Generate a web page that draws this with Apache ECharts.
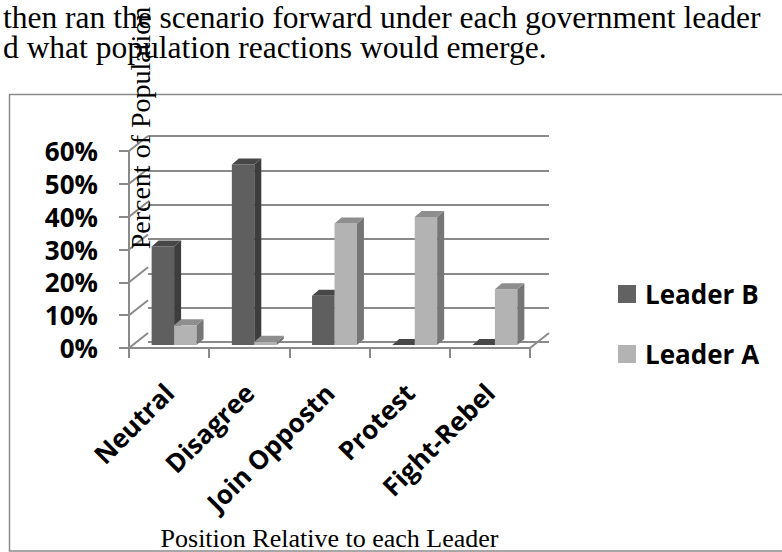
<!DOCTYPE html>
<html>
<head>
<meta charset="utf-8">
<script src="https://cdn.jsdelivr.net/npm/echarts@6/dist/echarts.min.js"></script>
<style>
html,body{margin:0;padding:0;background:#fff;}
#chart{width:782px;height:552px;}
</style>
</head>
<body>
<div id="chart"></div>
<script>
// ---- data ----
const categories = ['Neutral', 'Disagree', 'Join Oppostn', 'Protest', 'Fight-Rebel'];
const leaderB = [30, 55, 15, 0, 0];
const leaderA = [6, 1, 37, 39, 17];
const yTicks = [0, 10, 20, 30, 40, 50, 60];
const seriesNames = ['Leader B', 'Leader A'];
const paragraphLines = [
  'then ran the scenario forward under each government leader',
  'd what population reactions would emerge.'
];
const yTitle = 'Percent of Population';
const xTitle = 'Position Relative to each Leader';

// ---- style constants ----
const DX = 19, DY = -15;          // wall depth offset
const SX = 5, SY = -3;            // bar placement inside depth
const BX = 7, BY = -6;            // bar depth
const GRID_COLOR = '#8a8a8a';
const palette = {
  'Leader B': {front: '#5f5f5f', side: '#3d3d3d', top: '#474747', legend: '#626262'},
  'Leader A': {front: '#b3b3b3', side: '#767676', top: '#8e8e8e', legend: '#b3b3b3'}
};
const LABEL_FONT = '"Open Sans", "Liberation Sans", sans-serif';
const SERIF = '"Liberation Serif", "DejaVu Serif", serif';

const chart = echarts.init(document.getElementById('chart'), null, {renderer: 'svg'});

function barRenderer(name, sideIndex) {
  const c = palette[name];
  return function (params, api) {
    const idx = api.value(0), v = api.value(1);
    const base = api.coord([idx, 0]);
    const top = api.coord([idx, v]);
    const bw = api.size([1, 0])[0];
    const w = bw * 0.28;
    const x0 = (sideIndex === 0 ? base[0] - w : base[0]) + SX;
    const yb = base[1] + SY;
    const yt = top[1] + SY;
    return {
      type: 'group',
      children: [
        {type: 'rect', shape: {x: x0, y: yt, width: w, height: yb - yt}, style: {fill: c.front}},
        {type: 'polygon', shape: {points: [[x0 + w, yb], [x0 + w + BX, yb + BY], [x0 + w + BX, yt + BY], [x0 + w, yt]]}, style: {fill: c.side}},
        {type: 'polygon', shape: {points: [[x0, yt], [x0 + BX, yt + BY], [x0 + w + BX, yt + BY], [x0 + w, yt]]}, style: {fill: c.top}}
      ]
    };
  };
}

const option = {
  animation: false,
  backgroundColor: '#fff',
  grid: [
    {left: 129, top: 151, width: 401, height: 206},
    {left: 129 + DX, top: 151 + DY, width: 401, height: 206}
  ],
  xAxis: [
    {
      type: 'category', gridIndex: 0, data: categories,
      axisLine: {show: true, lineStyle: {color: GRID_COLOR, width: 2}},
      axisTick: {show: true, length: 10, lineStyle: {color: GRID_COLOR, width: 2}},
      axisLabel: {
        interval: 0, rotate: 45, margin: 40, verticalAlign: 'middle',
        color: '#000', fontFamily: LABEL_FONT, fontWeight: 'bold', fontSize: 26
      },
      name: xTitle, nameLocation: 'middle', nameGap: 190,
      nameTextStyle: {fontFamily: SERIF, fontSize: 26, color: '#000', verticalAlign: 'middle'}
    },
    {type: 'category', gridIndex: 1, data: categories, show: false}
  ],
  yAxis: [
    {
      type: 'value', gridIndex: 0, min: 0, max: 60, interval: 10,
      axisLine: {show: true, lineStyle: {color: GRID_COLOR, width: 2}},
      axisTick: {show: true, length: 10, lineStyle: {color: GRID_COLOR, width: 2}},
      splitLine: {show: false},
      axisLabel: {
        margin: 31, formatter: '{value}%', color: '#000',
        fontFamily: LABEL_FONT, fontWeight: 'bold', fontSize: 26
      }
    },
    {
      type: 'value', gridIndex: 1, min: 0, max: 60, interval: 10,
      axisLine: {show: false}, axisTick: {show: false}, axisLabel: {show: false},
      splitLine: {show: true, lineStyle: {color: GRID_COLOR, width: 2}}
    }
  ],
  legend: {
    orient: 'vertical', left: 613, top: 274,
    data: seriesNames, icon: 'rect', itemWidth: 18, itemHeight: 18, itemGap: 30,
    selectedMode: false,
    textStyle: {fontFamily: LABEL_FONT, fontWeight: 'bold', fontSize: 26, color: '#000', lineHeight: 30, padding: [0, 0, 0, 4]}
  },
  series: [
    {
      type: 'custom', name: 'walls', xAxisIndex: 0, yAxisIndex: 0, silent: true, z: 1,
      data: yTicks.map(v => [0, v]),
      renderItem: function (params, api) {
        const p = api.coord([0, api.value(1)]);
        const bw = api.size([1, 0])[0];
        const xl = p[0] - bw / 2;
        return {type: 'line', shape: {x1: xl, y1: p[1], x2: xl + DX, y2: p[1] + DY},
          style: {stroke: GRID_COLOR, lineWidth: 2}};
      }
    },
    {
      type: 'custom', name: 'floor', xAxisIndex: 0, yAxisIndex: 0, silent: true, z: 1,
      data: [[categories.length - 1, 0]],
      renderItem: function (params, api) {
        const p = api.coord([api.value(0), 0]);
        const bw = api.size([1, 0])[0];
        const xr = p[0] + bw / 2;
        return {type: 'line', shape: {x1: xr, y1: p[1], x2: xr + DX, y2: p[1] + DY},
          style: {stroke: GRID_COLOR, lineWidth: 2}};
      }
    },
    {
      type: 'custom', name: 'Leader B', xAxisIndex: 0, yAxisIndex: 0, z: 3,
      itemStyle: {color: palette['Leader B'].legend},
      data: leaderB.map((v, i) => [i, v]),
      renderItem: barRenderer('Leader B', 0)
    },
    {
      type: 'custom', name: 'Leader A', xAxisIndex: 0, yAxisIndex: 0, z: 3,
      itemStyle: {color: palette['Leader A'].legend},
      data: leaderA.map((v, i) => [i, v]),
      renderItem: barRenderer('Leader A', 1)
    }
  ],
  graphic: [
    {type: 'rect', z: -1, shape: {x: 9.5, y: 94.5, width: 800, height: 456.5},
      style: {fill: 'none', stroke: GRID_COLOR, lineWidth: 1.5}},
    {type: 'text', x: 3, y: 17, z: 10, style: {text: paragraphLines[0], font: '31.5px ' + SERIF, lineHeight: 30, fill: '#000', textAlign: 'left', textVerticalAlign: 'middle'}},
    {type: 'text', x: 3, y: 47, z: 10, style: {text: paragraphLines[1], font: '31.5px ' + SERIF, lineHeight: 30, fill: '#000', textAlign: 'left', textVerticalAlign: 'middle'}},
    {type: 'text', x: 140, y: 128, rotation: Math.PI / 2, z: 10,
      style: {text: yTitle, font: '28px ' + SERIF, fill: '#000', textAlign: 'center', textVerticalAlign: 'middle'}}
  ]
};
chart.setOption(option);
</script>
</body>
</html>
